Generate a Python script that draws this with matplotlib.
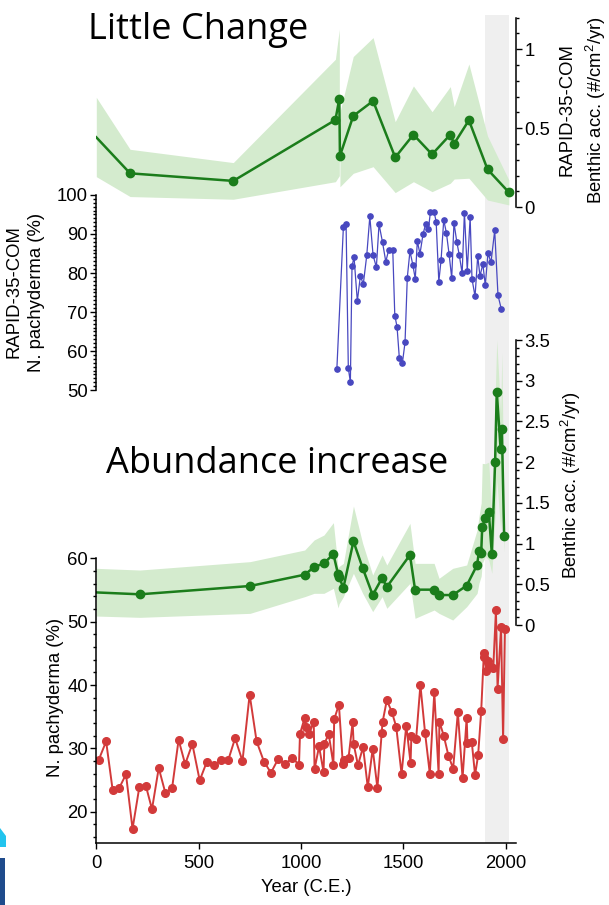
import matplotlib
matplotlib.use('Agg')
import matplotlib.pyplot as plt
from matplotlib.ticker import MultipleLocator, FuncFormatter
from matplotlib.patches import Polygon, Rectangle

plt.rcParams['font.family'] = ['Liberation Sans', 'DejaVu Sans']
plt.rcParams['mathtext.default'] = 'regular'

# ---------------- data ----------------
# Top panel: RAPID-35-COM benthic accumulation (#/cm2/yr)
top_years = [0, 165, 669, 1168, 1187, 1190, 1255, 1352, 1460, 1549, 1640, 1729, 1748, 1820, 1911, 2015]
top_vals = [0.443, 0.215, 0.167, 0.553, 0.688, 0.325, 0.578, 0.673, 0.316, 0.46, 0.335, 0.46, 0.403, 0.551, 0.24, 0.095]
top_upper = [0.696, 0.367, 0.283, 0.937, 1.127, 0.60, 0.954, 1.074, 0.542, 0.768, 0.605, 0.764, 0.637, 0.907, 0.451, 0.173]
top_lower = [0.194, 0.068, 0.051, 0.162, 0.20, 0.13, 0.215, 0.257, 0.093, 0.162, 0.099, 0.152, 0.179, 0.184, 0.046, 0.015]

# Middle panel: RAPID-35-COM N. pachyderma (%)
blue_years = [1175, 1207, 1220, 1231, 1241, 1249, 1259, 1275, 1290, 1304,
              1321, 1336, 1352, 1368, 1381, 1398, 1414, 1428, 1448, 1458,
              1469, 1480, 1495, 1508, 1519, 1532, 1546, 1558, 1568, 1581,
              1596, 1609, 1622, 1632, 1650, 1660, 1673, 1684, 1697, 1710,
              1723, 1736, 1747, 1761, 1773, 1787, 1798, 1812, 1826, 1835,
              1850, 1863, 1874, 1888, 1900, 1913, 1928, 1946, 1962, 1978]
blue_vals = [55.4, 91.9, 92.5, 55.6, 52.0, 81.8, 84.0, 72.8, 79.3, 77.1,
             84.5, 94.5, 84.5, 81.5, 92.5, 87.9, 82.9, 85.9, 86.0, 69.1,
             66.2, 58.3, 56.9, 62.2, 78.8, 85.6, 82.1, 78.5, 88.2, 84.9,
             90.0, 92.6, 91.2, 95.6, 95.6, 93.2, 77.8, 83.3, 93.6, 90.3,
             84.9, 78.7, 92.9, 87.9, 84.6, 79.9, 95.5, 80.6, 94.3, 78.5,
             74.0, 84.4, 79.2, 82.3, 76.9, 85.0, 82.8, 90.9, 74.3, 70.8]

# Lower panel: benthic accumulation (#/cm2/yr)
bot_years = [0, 213, 751, 1018, 1064, 1112, 1158, 1181, 1186, 1207, 1256, 1301, 1350, 1396, 1419,
             1532, 1557, 1650, 1674, 1741, 1809, 1860, 1869, 1880, 1885, 1900, 1917, 1932, 1948,
             1956, 1975, 1981, 1992]
bot_vals = [0.40, 0.377, 0.479, 0.618, 0.712, 0.757, 0.872, 0.622, 0.585, 0.458, 1.027, 0.700, 0.368,
            0.577, 0.467, 0.86, 0.434, 0.434, 0.368, 0.368, 0.483, 0.737, 0.905, 0.885, 1.205, 1.31,
            1.39, 0.87, 2.006, 2.865, 2.157, 2.407, 1.097]
bot_upper = [0.696, 0.675, 0.778, 0.921, 1.044, 1.105, 1.257, 0.70, 0.72, 0.757, 1.461, 1.003, 0.614,
             0.86, 0.737, 1.248, 0.757, 0.757, 0.573, 0.696, 0.737, 1.167, 1.33, 1.50, 1.985, 1.98,
             2.0, 1.30, 2.8, 3.5, 2.6, 3.35, 1.2]
bot_lower = [0.11, 0.094, 0.143, 0.348, 0.389, 0.389, 0.45, 0.21, 0.26, 0.348, 0.634, 0.389, 0.164,
             0.348, 0.205, 0.512, 0.082, 0.184, 0.143, 0.061, 0.225, 0.389, 0.512, 0.6, 0.757, 0.84,
             0.8, 0.634, 1.33, 1.78, 1.167, 1.37, 0.9]

# Lower panel: N. pachyderma (%)
red_years = [12, 48, 80, 112, 145, 177, 210, 242, 272, 305,
             337, 370, 402, 434, 469, 505, 539, 573, 610, 644,
             678, 714, 749, 783, 819, 853, 888, 924, 958, 990,
             995, 1017, 1022, 1040, 1062, 1066, 1088, 1110, 1114, 1135,
             1158, 1162, 1185, 1204, 1210, 1232, 1252, 1257, 1278, 1303,
             1326, 1350, 1373, 1394, 1398, 1419, 1444, 1465, 1491, 1514,
             1535, 1539, 1562, 1583, 1606, 1629, 1651, 1672, 1676, 1697,
             1720, 1743, 1766, 1789, 1809, 1813, 1834, 1850, 1865, 1880,
             1893, 1895, 1905, 1914, 1928, 1939, 1952, 1960, 1977, 1987, 1996]
red_vals = [28.2, 31.1, 23.4, 23.75, 25.9, 17.3, 23.85, 24.1, 20.4, 26.9,
            23.0, 23.7, 31.35, 27.5, 30.7, 24.95, 27.8, 27.35, 28.1, 28.1,
            31.6, 28.0, 38.5, 31.1, 27.9, 26.15, 28.3, 27.55, 28.5, 27.4,
            32.3, 34.75, 33.3, 32.3, 34.2, 26.7, 30.3, 26.3, 30.7, 32.3,
            27.45, 34.6, 36.9, 27.6, 28.1, 28.5, 34.1, 30.7, 27.35, 30.2,
            23.85, 29.95, 23.75, 32.4, 34.1, 37.6, 35.7, 33.4, 25.95, 33.6,
            27.7, 32.0, 31.4, 40.0, 32.4, 26.0, 38.85, 26.0, 34.2, 32.0,
            28.85, 26.8, 35.7, 25.3, 34.8, 30.9, 31.0, 25.8, 28.9, 35.9,
            45.0, 44.5, 42.2, 43.85, 42.9, 42.7, 51.8, 39.4, 49.1, 31.4, 48.9]

shade_span = (1900, 2015)
x_ticks = [0, 500, 1000, 1500, 2000]

# ---------------- styling ----------------
GREEN = '#1b7d1b'
BAND = '#d4ebce'
RED = '#d23a3a'
BLUE = '#4848c0'
GRAY = '#efefef'
FS = 13.3

W, H = 609, 905
fig = plt.figure(figsize=(W / 100, H / 100), dpi=100)

XL, XR = 96.3, 516.0


def px_ax(top, bottom, left=XL, right=XR):
    ax = fig.add_axes([left / W, 1 - bottom / H, (right - left) / W, (bottom - top) / H])
    ax.set_facecolor('none')
    ax.set_xlim(0, 2050)
    return ax


def only_spines(ax, keep):
    for s in ['top', 'bottom', 'left', 'right']:
        ax.spines[s].set_visible(s in keep)
        ax.spines[s].set_linewidth(1.1)
    ax.tick_params(which='both', direction='out', width=1.0, labelsize=FS, pad=2)
    ax.tick_params(which='major', length=4)
    ax.tick_params(which='minor', length=2.3)


fmt = FuncFormatter(lambda v, p: '%g' % v)

# background shading
axb = px_ax(15, 843.4)
axb.axis('off')
axb.axvspan(*shade_span, color=GRAY, lw=0)

# top panel
ax1 = px_ax(17.7, 207.3)
ax1.set_ylim(0, 1.2)
only_spines(ax1, ['right'])
ax1.set_xticks([])
ax1.yaxis.tick_right()
ax1.yaxis.set_major_locator(MultipleLocator(0.5))
ax1.yaxis.set_minor_locator(MultipleLocator(0.1))
ax1.yaxis.set_major_formatter(fmt)
ax1.fill_between(top_years[:5], top_lower[:5], top_upper[:5], color=BAND, lw=0)
ax1.fill_between(top_years[5:], top_lower[5:], top_upper[5:], color=BAND, lw=0)
ax1.plot(top_years, top_vals, color=GREEN, lw=1.8, marker='o', ms=6,
         markevery=list(range(1, len(top_years))))

# middle panel
ax2 = px_ax(195, 390)
ax2.set_ylim(50, 100)
only_spines(ax2, ['left'])
ax2.set_xticks([])
ax2.yaxis.set_major_locator(MultipleLocator(10))
ax2.yaxis.set_minor_locator(MultipleLocator(1))
ax2.plot(blue_years, blue_vals, color=BLUE, lw=0.9, marker='o', ms=3.8)

# lower benthic panel
ax3 = px_ax(340, 625)
ax3.set_ylim(0, 3.5)
only_spines(ax3, ['right'])
ax3.set_xticks([])
ax3.yaxis.tick_right()
ax3.yaxis.set_major_locator(MultipleLocator(0.5))
ax3.yaxis.set_minor_locator(MultipleLocator(0.1))
ax3.yaxis.set_major_formatter(fmt)
ax3.fill_between(bot_years, bot_lower, bot_upper, color=BAND, lw=0)
ax3.plot(bot_years, bot_vals, color=GREEN, lw=1.8, marker='o', ms=6,
         markevery=list(range(1, len(bot_years))))

# red panel
ax4 = px_ax(558.3, 843.4)
ax4.set_ylim(15, 60)
only_spines(ax4, ['left', 'bottom'])
ax4.set_xticks(x_ticks)
ax4.set_xticklabels([str(t) for t in x_ticks])
ax4.yaxis.set_major_locator(MultipleLocator(10))
ax4.yaxis.set_minor_locator(MultipleLocator(2))
ax4.plot(red_years, red_vals, color=RED, lw=1.4, marker='o', ms=5.5)
ax4.tick_params(axis='x', pad=4)

# axis labels
fig.text(583 / W, 1 - 110 / H, 'RAPID-35-COM\nBenthic acc. (#/cm$^2$/yr)', rotation=90,
         ha='center', va='center', fontsize=FS, linespacing=1.45, multialignment='center')
fig.text(25.5 / W, 1 - 292 / H, 'RAPID-35-COM\nN. pachyderma (%)', rotation=90,
         ha='center', va='center', fontsize=FS, linespacing=1.45, multialignment='center')
fig.text(571 / W, 1 - 485 / H, 'Benthic acc. (#/cm$^2$/yr)', rotation=90,
         ha='center', va='center', fontsize=FS)
fig.text(56 / W, 1 - 697 / H, 'N. pachyderma (%)', rotation=90,
         ha='center', va='center', fontsize=FS)
fig.text(306 / W, 1 - 887 / H, 'Year (C.E.)', ha='center', va='center', fontsize=FS)

# annotations
fig.text(88 / W, 1 - 39 / H, 'Little Change', fontsize=26, family='Open Sans', va='baseline')
fig.text(106 / W, 1 - 473 / H, 'Abundance increase', fontsize=26, family='Open Sans', va='baseline')

# partial logo at the bottom-left edge
fig.patches.append(Polygon([(0 / W, 1 - 828 / H), (6 / W, 1 - 836 / H), (6 / W, 1 - 847 / H), (0 / W, 1 - 847 / H)],
                           closed=True, transform=fig.transFigure, color='#22c4ee', lw=0))
fig.patches.append(Rectangle((0, 0), 5 / W, (905 - 858) / H, transform=fig.transFigure,
                             color='#1f4b8c', lw=0))

fig.savefig('out.png', dpi=100)
